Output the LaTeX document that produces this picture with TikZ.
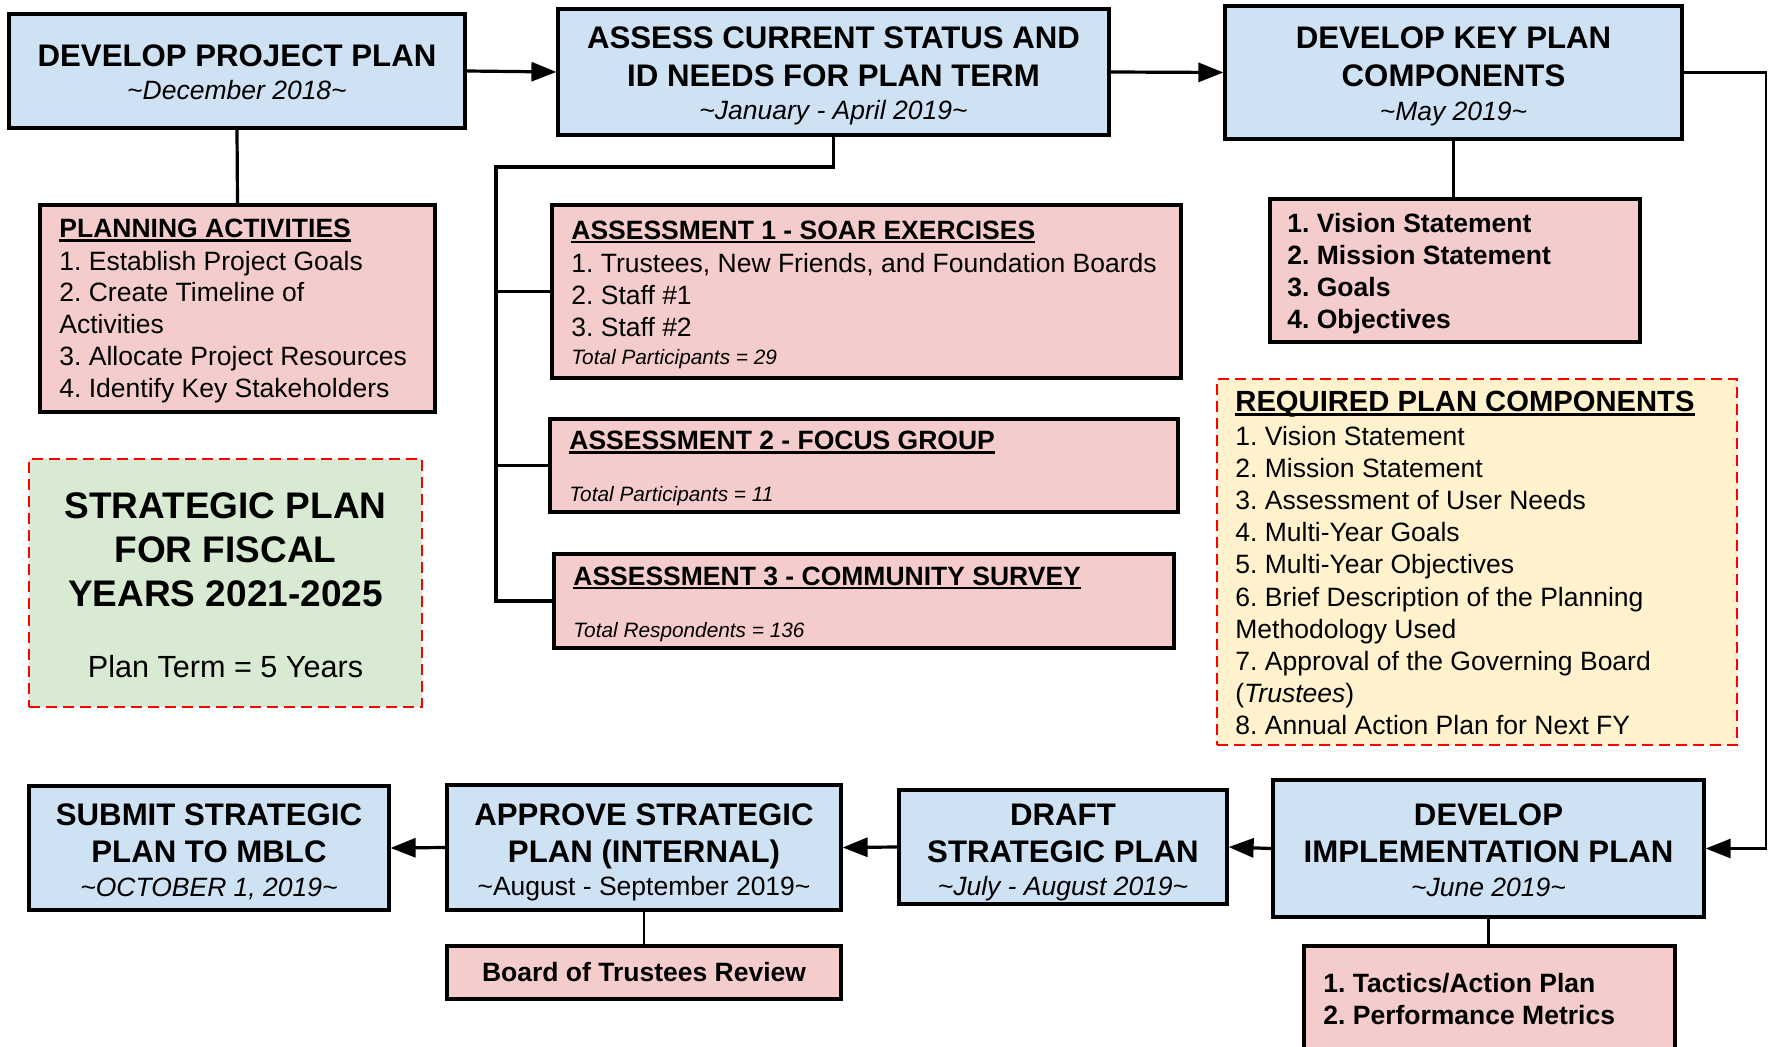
\documentclass[tikz,border=0pt]{standalone}
\usepackage{fontspec}
\setmainfont{Liberation Sans}
\usetikzlibrary{arrows.meta,fit}
\frenchspacing
\definecolor{cblue}{HTML}{CFE2F3}
\definecolor{cpink}{HTML}{F4CCCC}
\definecolor{cgreen}{HTML}{D9EAD3}
\definecolor{cyel}{HTML}{FFF2CC}
\definecolor{cred}{HTML}{FF0000}
\newcommand\myul[1]{\leavevmode\setbox0\hbox{#1}\rlap{\vrule height -0.6pt depth 1.9pt width \wd0}\box0}
\newcommand\fT{\fontsize{15.6}{18}\selectfont\bfseries}
\newcommand\fS{\fontsize{13.25}{16}\selectfont\itshape}
\newcommand\fU{\fontsize{13.25}{16}\selectfont}
\newcommand\fB{\fontsize{13.25}{16}\selectfont}
\newcommand\fBb{\fontsize{13.25}{16}\selectfont\bfseries}
\newcommand\fI{\fontsize{10.4}{12}\selectfont\itshape}
\newcommand\fBig{\fontsize{18.5}{22}\selectfont\bfseries}
\newcommand\fPlan{\fontsize{15.3}{18}\selectfont}
\newcommand\fReq{\fontsize{14.6}{17}\selectfont\bfseries}
\tikzset{
  bx/.style={draw=black, line width=1.6pt, inner sep=0pt},
  bluebox/.style={bx, fill=cblue},
  pinkbox/.style={bx, fill=cpink},
  dashbox/.style={draw=cred, line width=1pt, dash pattern=on 5.5pt off 3pt, inner sep=0pt},
  tx/.style={inner sep=0pt, anchor=base},
  txl/.style={inner sep=0pt, anchor=base west},
  conn/.style={line width=1.6pt, draw=black},
  thin/.style={line width=1.2pt, draw=black},
  arr/.style={conn, -{Triangle[length=12.5pt,width=9.5pt]}}
}
\begin{document}
\begin{tikzpicture}[x=0.5pt,y=-0.5pt]
\path[use as bounding box] (0,0) rectangle (1770,1047);
\clip (0,0) rectangle (1770,1047);
\fill[white] (0,0) rectangle (1770,1047);

% ---------- top row ----------
\node[bluebox, fit={(9,14)(465,128)}] (dpp) {};
\node[tx, font=\fT] (dpp1) at (237,67) {DEVELOP PROJECT PLAN};
\node[tx, font=\fS] (dpp2) at (237,99.5) {\textasciitilde December 2018\textasciitilde};

\node[bluebox, fit={(558,9)(1109,135)}] (asm) {};
\node[tx, font=\fT] (asm1) at (833.5,49) {ASSESS CURRENT STATUS AND};
\node[tx, font=\fT] (asm2) at (833.5,87) {ID NEEDS FOR PLAN TERM};
\node[tx, font=\fS] (asm3) at (833.5,120) {\textasciitilde January - April 2019\textasciitilde};

\node[bluebox, fit={(1225,6)(1682,139)}] (dkp) {};
\node[tx, font=\fT] (dkp1) at (1453.5,49) {DEVELOP KEY PLAN};
\node[tx, font=\fT] (dkp2) at (1453.5,87) {COMPONENTS};
\node[tx, font=\fS] (dkp3) at (1453.5,121) {\textasciitilde May 2019\textasciitilde};

% ---------- planning activities ----------
\node[pinkbox, fit={(40,205)(435,412)}] (pla) {};
\node[txl, font=\fBb] (pla0) at (59,238) {\myul{PLANNING ACTIVITIES}};
\node[txl, font=\fB] (pla1) at (59,270.5) {1. Establish Project Goals};
\node[txl, font=\fB] (pla2) at (59,302) {2. Create Timeline of};
\node[txl, font=\fB] (pla3) at (59,334) {Activities};
\node[txl, font=\fB] (pla4) at (59,366) {3. Allocate Project Resources};
\node[txl, font=\fB] (pla5) at (59,398) {4. Identify Key Stakeholders};

% ---------- strategic plan ----------
\node[dashbox, fill=cgreen, fit={(29,459)(422,707)}] (stp) {};
\node[tx, font=\fBig] (stp1) at (225.5,518) {STRATEGIC PLAN};
\node[tx, font=\fBig] (stp2) at (225.5,562) {FOR FISCAL};
\node[tx, font=\fBig] (stp3) at (225.5,606) {YEARS 2021-2025};
\node[tx, font=\fPlan] (stp4) at (225.5,677) {Plan Term = 5 Years};

% ---------- assessments ----------
\node[pinkbox, fit={(552,205)(1181,378)}] (a1) {};
\node[txl, font=\fBb] (a10) at (571,239.5) {\myul{ASSESSMENT 1 - SOAR EXERCISES}};
\node[txl, font=\fB] (a11) at (571,272.5) {1. Trustees, New Friends, and Foundation Boards};
\node[txl, font=\fB] (a12) at (571,304.5) {2. Staff \#1};
\node[txl, font=\fB] (a13) at (571,336.5) {3. Staff \#2};
\node[txl, font=\fI] (a14) at (571,364.5) {Total Participants = 29};

\node[pinkbox, fit={(550,419)(1178,512)}] (a2) {};
\node[txl, font=\fBb] (a20) at (569,450) {\myul{ASSESSMENT 2 - FOCUS GROUP}};
\node[txl, font=\fI] (a21) at (569,502) {Total Participants = 11};

\node[pinkbox, fit={(554,554)(1174,648)}] (a3) {};
\node[txl, font=\fBb] (a30) at (573,585.5) {\myul{ASSESSMENT 3 - COMMUNITY SURVEY}};
\node[txl, font=\fI] (a31) at (573,637.5) {Total Respondents = 136};

% ---------- key components ----------
\node[pinkbox, fit={(1270,199)(1640,342)}] (key) {};
\node[txl, font=\fBb] (key1) at (1287,233) {1. Vision Statement};
\node[txl, font=\fBb] (key2) at (1287,265) {2. Mission Statement};
\node[txl, font=\fBb] (key3) at (1287,297) {3. Goals};
\node[txl, font=\fBb] (key4) at (1287,329) {4. Objectives};

% ---------- required components ----------
\node[dashbox, fill=cyel, fit={(1217,379)(1737,745)}] (req) {};
\node[txl, font=\fReq] (req0) at (1235,412) {\myul{REQUIRED PLAN COMPONENTS}};
\node[txl, font=\fB] (req1) at (1235,445.5) {1. Vision Statement};
\node[txl, font=\fB] (req2) at (1235,477.6) {2. Mission Statement};
\node[txl, font=\fB] (req3) at (1235,509.7) {3. Assessment of User Needs};
\node[txl, font=\fB] (req4) at (1235,541.8) {4. Multi-Year Goals};
\node[txl, font=\fB] (req5) at (1235,573.9) {5. Multi-Year Objectives};
\node[txl, font=\fB] (req6) at (1235,606) {6. Brief Description of the Planning};
\node[txl, font=\fB] (req7) at (1235,638.1) {Methodology Used};
\node[txl, font=\fB] (req8) at (1235,670.2) {7. Approval of the Governing Board};
\node[txl, font=\fB] (req9) at (1235,702.3) {(\textit{Trustees})};
\node[txl, font=\fB] (req10) at (1235,734.4) {8. Annual Action Plan for Next FY};

% ---------- bottom row ----------
\node[bluebox, fit={(29,786)(389,910)}] (sub) {};
\node[tx, font=\fT] (sub1) at (209,825) {SUBMIT STRATEGIC};
\node[tx, font=\fT] (sub2) at (209,862) {PLAN TO MBLC};
\node[tx, font=\fS] (sub3) at (209,896) {\textasciitilde OCTOBER 1, 2019\textasciitilde};

\node[bluebox, fit={(447,785)(841,910)}] (apr) {};
\node[tx, font=\fT] (apr1) at (644,825) {APPROVE STRATEGIC};
\node[tx, font=\fT] (apr2) at (644,862) {PLAN (INTERNAL)};
\node[tx, font=\fU] (apr3) at (644,895) {\textasciitilde August - September 2019\textasciitilde};

\node[bluebox, fit={(899,790)(1227,904)}] (dra) {};
\node[tx, font=\fT] (dra1) at (1063,825) {DRAFT};
\node[tx, font=\fT] (dra2) at (1063,862) {STRATEGIC PLAN};
\node[tx, font=\fS] (dra3) at (1063,895) {\textasciitilde July - August 2019\textasciitilde};

\node[bluebox, fit={(1273,780)(1704,917)}] (dip) {};
\node[tx, font=\fT] (dip1) at (1488.5,825) {DEVELOP};
\node[tx, font=\fT] (dip2) at (1488.5,862) {IMPLEMENTATION PLAN};
\node[tx, font=\fS] (dip3) at (1488.5,896) {\textasciitilde June 2019\textasciitilde};

\node[pinkbox, fit={(447,946)(841,999)}] (brd) {};
\node[tx, font=\fBb] (brd1) at (644,981.5) {Board of Trustees Review};

\node[pinkbox, fit={(1304,946)(1675,1075)}] (tac) {};
\node[txl, font=\fBb] (tac1) at (1323,992.5) {1. Tactics/Action Plan};
\node[txl, font=\fBb] (tac2) at (1323,1024.5) {2. Performance Metrics};

% ---------- connectors ----------
\draw[arr] (dpp.east) -- (asm.west);
\draw[arr] (asm.east) -- (dkp.west);
\coordinate (rc) at (1766,0);
\draw[arr, line width=1.3pt] (dkp.east) -- (dkp.east -| rc) |- (dip.east);
\draw[arr] (dip.west) -- (dra.east);
\draw[arr] (dra.west) -- (apr.east);
\draw[arr] (apr.west) -- (sub.east);
\draw[conn] (dpp.south) -- (pla.north);
\coordinate (bus) at (496,167);
\draw[conn] (asm.south) |- (bus) |- (a3.west);
\draw[conn] (bus |- a1.west) -- (a1.west);
\draw[conn] (bus |- a2.west) -- (a2.west);
\draw[conn] (dkp.south) -- (dkp.south |- key.north);
\draw[thin] (apr.south) -- (apr.south |- brd.north);
\draw[thin] (dip.south) -- (dip.south |- tac.north);
\end{tikzpicture}
\end{document}
